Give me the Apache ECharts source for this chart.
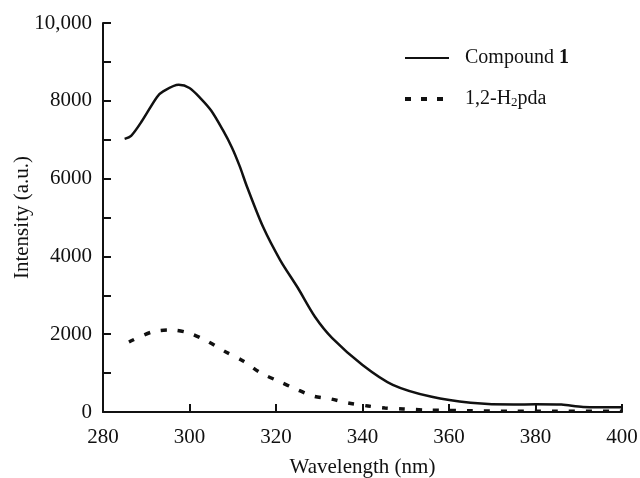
<!DOCTYPE html>
<html>
<head>
<meta charset="utf-8">
<script src="https://cdn.jsdelivr.net/npm/echarts@6/dist/echarts.min.js"></script>
<style>
html,body{margin:0;padding:0;background:#fff;}
#chart{width:640px;height:478px;}
</style>
</head>
<body>
<div id="chart"></div>
<script>
const seriesNames = ['Compound 1', '1,2-H2pda'];
const xTicks = [280, 300, 320, 340, 360, 380, 400];
const yTicks = [0, 2000, 4000, 6000, 8000, 10000];
const compoundWl = [285, 286.5, 289, 292.5, 294, 297.5, 300, 302.5, 305, 307.7, 309.8, 311.6, 313.3, 317, 321, 325, 329, 333, 340, 347, 356, 365, 375, 380, 386, 391, 400];
const compoundI = [7020, 7100, 7480, 8100, 8250, 8410, 8330, 8070, 7750, 7250, 6800, 6320, 5790, 4760, 3900, 3200, 2450, 1900, 1210, 700, 390, 240, 190, 200, 190, 130, 120];
const ligandWl = [286, 291.3, 295.5, 299.9, 304, 308, 312.4, 316.5, 320.5, 324.6, 328.6, 332.7, 336.6, 341.3, 345.2, 349.4, 355, 365, 375, 385, 400];
const ligandI = [1800, 2057, 2110, 2030, 1826, 1568, 1311, 1003, 797, 591, 411, 334, 231, 154, 103, 77, 50, 30, 20, 20, 20];

const FONT = 'Liberation Serif';
const FS = 21;
const chart = echarts.init(document.getElementById('chart'));
chart.setOption({
  animation: false,
  backgroundColor: '#fff',
  textStyle: { fontFamily: FONT, color: '#111' },
  grid: { left: 103, right: 18, top: 23, bottom: 66, outerBoundsMode: 'none', containLabel: false },
  legend: {
    orient: 'vertical',
    left: 398,
    top: 43,
    itemWidth: 44,
    itemHeight: 14,
    itemGap: 21,
    data: [
      { name: seriesNames[0] },
      { name: seriesNames[1], lineStyle: { width: 4, type: [6, 10] } }
    ],
    itemStyle: { color: 'rgba(0,0,0,0)', borderColor: 'rgba(0,0,0,0)', borderWidth: 0 },
    textStyle: {
      fontFamily: FONT, fontSize: 20, color: '#111',
      rich: {
        a0: { fontFamily: FONT, fontSize: 20, color: '#111', padding: [0, 0, 0, 11] },
        a: { fontFamily: FONT, fontSize: 20, color: '#111' },
        b: { fontFamily: FONT, fontSize: 20, color: '#111', fontWeight: 'bold' },
        s: { fontFamily: FONT, fontSize: 13, color: '#111', verticalAlign: 'bottom', padding: [7, 0, 0, 0] }
      }
    },
    formatter: function (name) {
      if (name === seriesNames[0]) return '{a0|Compound }{b|1}';
      return '{a0|1,2-H}{s|2}{a|pda}';
    }
  },
  xAxis: {
    type: 'value',
    min: xTicks[0], max: xTicks[xTicks.length - 1], interval: 20,
    name: 'Wavelength (nm)', nameLocation: 'middle', nameGap: 45,
    nameTextStyle: { fontFamily: FONT, fontSize: 21, color: '#111' },
    axisLine: { show: true, lineStyle: { color: '#111', width: 2 } },
    axisTick: { show: true, inside: true, length: 8, lineStyle: { color: '#111', width: 2 } },
    axisLabel: { fontFamily: FONT, fontSize: FS, color: '#111', margin: 15 },
    splitLine: { show: false }
  },
  yAxis: {
    type: 'value',
    min: yTicks[0], max: yTicks[yTicks.length - 1], interval: 2000,
    name: 'Intensity (a.u.)', nameLocation: 'middle', nameGap: 70, nameMoveOverlap: false,
    nameTextStyle: { fontFamily: FONT, fontSize: 21, color: '#111' },
    axisLine: { show: true, lineStyle: { color: '#111', width: 2 } },
    axisTick: { show: true, inside: true, length: 8, lineStyle: { color: '#111', width: 2 } },
    minorTick: { show: true, splitNumber: 2, length: 8, lineStyle: { color: '#111', width: 2 } },
    axisLabel: {
      fontFamily: FONT, fontSize: FS, color: '#111', margin: 11,
      formatter: function (v) { return v === 10000 ? '10,000' : String(v); }
    },
    splitLine: { show: false }
  },
  series: [
    {
      name: seriesNames[0], type: 'line', smooth: 0.3, symbol: 'none',
      lineStyle: { color: '#111', width: 2.5 },
      itemStyle: { color: '#111' },
      data: compoundWl.map((w, i) => [w, compoundI[i]])
    },
    {
      name: seriesNames[1], type: 'line', smooth: 0.3, symbol: 'none',
      lineStyle: { color: '#111', width: 3.5, type: [6, 11] },
      itemStyle: { color: '#111' },
      data: ligandWl.map((w, i) => [w, ligandI[i]])
    }
  ]
});
</script>
</body>
</html>
